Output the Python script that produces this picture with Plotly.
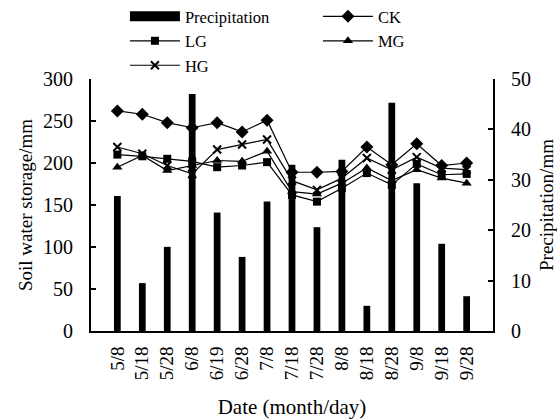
import plotly.graph_objects as go

dates = ["5/8", "5/18", "5/28", "6/8", "6/19", "6/28", "7/8", "7/18", "7/28",
         "8/8", "8/18", "8/28", "9/8", "9/18", "9/28"]
precip = [26.8, 9.5, 16.7, 47.0, 23.5, 14.7, 25.7, 33.0, 20.6,
          34.0, 5.0, 45.3, 29.3, 17.3, 6.9]
ck = [262, 258, 248, 242, 248, 237, 251, 189, 189, 190, 219, 198, 223, 197, 200]
lg = [210, 208, 205, 202, 195, 197, 201, 162, 154, 170, 188, 174, 199, 186, 187]
mg = [195, 209, 191, 197, 203, 202, 214, 166, 163, 176, 194, 179, 192, 182, 176]
hg = [219, 211, 197, 187, 216, 222, 228, 179, 168, 182, 206, 192, 207, 194, 192]

FONT = "Liberation Serif"
fig = go.Figure()

fig.add_trace(go.Bar(x=dates, y=precip, name="Precipitation", marker_color="black",
                     marker_line_width=0, width=0.27, yaxis="y", showlegend=False))
# legend swatch for precipitation (wide black bar)
fig.add_trace(go.Scatter(x=[None], y=[None], mode="lines", name="Precipitation",
                         line=dict(color="black", width=10), yaxis="y"))

series = [("CK", ck, "diamond", 10), ("LG", lg, "square", 8),
          ("MG", mg, "triangle-up", 9), ("HG", hg, "x-thin", 8)]
for name, vals, sym, sz in series:
    mk = dict(symbol=sym, size=sz, color="black",
              line=dict(color="black", width=2 if sym == "x-thin" else 0))
    fig.add_trace(go.Scatter(x=dates, y=vals, name=name, mode="lines+markers",
                             line=dict(color="black", width=1.2), marker=mk, yaxis="y2"))

fig.update_layout(
    width=557, height=419,
    margin=dict(l=91, r=64, t=79, b=88, autoexpand=False),
    paper_bgcolor="white", plot_bgcolor="white",
    font=dict(family=FONT, size=18, color="black"),
    showlegend=True,
    legend=dict(orientation="h", x=0.0844, xanchor="left", y=1.317, yanchor="top",
                xref="paper", yref="paper",
                entrywidth=128, entrywidthmode="pixels", itemwidth=50,
                font=dict(family=FONT, size=16.5), tracegroupgap=0,
                bgcolor="rgba(0,0,0,0)", traceorder="normal"),
    xaxis=dict(type="category", tickangle=-90, showline=True, linecolor="black", linewidth=2,
               ticks="", showgrid=False, zeroline=False, ticklabelstandoff=6,
               tickfont=dict(family=FONT, size=19),
               title=dict(text="Date (month/day)", font=dict(family=FONT, size=21), standoff=23)),
    yaxis=dict(side="right", range=[0, 50], dtick=10, ticks="inside", ticklen=5, tickwidth=1.5,
               tickcolor="black", showline=True, linecolor="black", linewidth=2,
               showgrid=False, zeroline=False, tickfont=dict(family=FONT, size=20),
               ticklabelstandoff=12,
               title=dict(text="Precipitation/mm", font=dict(family=FONT, size=19), standoff=10)),
    yaxis2=dict(side="left", overlaying="y", range=[0, 300], dtick=50, ticks="inside", ticklen=5,
                tickwidth=1.5, tickcolor="black", showline=True, linecolor="black", linewidth=2,
                showgrid=False, zeroline=False, tickfont=dict(family=FONT, size=20),
                ticklabelstandoff=12,
                title=dict(text="Soil water storage/mm", font=dict(family=FONT, size=19), standoff=5)),
)

fig.write_html("out.html", config={"displayModeBar": False},
               post_script="document.body.style.margin='0px';")
